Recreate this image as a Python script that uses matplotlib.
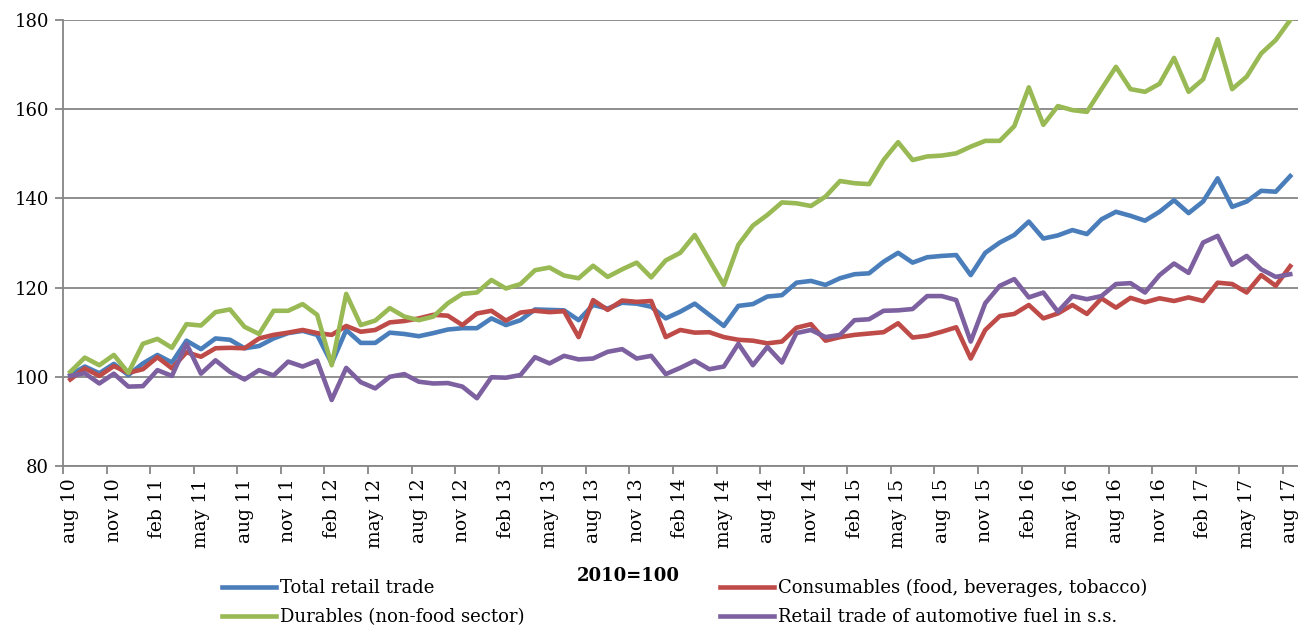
import numpy as np
import matplotlib.pyplot as plt
from matplotlib.ticker import MultipleLocator

# month index 0 = aug 10 ... 84 = aug 17
tick_labels = ['aug 10', 'nov 10', 'feb 11', 'may 11', 'aug 11', 'nov 11', 'feb 12', 'may 12',
               'aug 12', 'nov 12', 'feb 13', 'may 13', 'aug 13', 'nov 13', 'feb 14', 'may 14',
               'aug 14', 'nov 14', 'feb 15', 'may 15', 'aug 15', 'nov 15', 'feb 16', 'may 16',
               'aug 16', 'nov 16', 'feb 17', 'may 17', 'aug 17']

total = [100.4, 102.3, 100.8, 102.9, 100.4, 103.0, 104.9, 103.2, 108.1, 106.2,
         108.6, 108.3, 106.4, 106.9, 108.6, 109.8, 110.3, 109.4, 103.0, 110.5,
         107.6, 107.6, 109.9, 109.6, 109.1, 109.8, 110.6, 110.9, 110.9, 113.1,
         111.6, 112.7, 115.1, 115.0, 114.9, 112.7, 116.1, 115.3, 116.6, 116.4,
         115.7, 113.1, 114.6, 116.4, 113.9, 111.4, 115.9, 116.3, 118.0, 118.3,
         121.1, 121.5, 120.6, 122.1, 123.0, 123.2, 125.8, 127.8, 125.6, 126.8,
         127.1, 127.3, 122.8, 127.8, 130.1, 131.8, 134.8, 131.0, 131.7, 132.9,
         132.0, 135.3, 137.0, 136.1, 135.0, 137.0, 139.6, 136.7, 139.3, 144.5,
         138.1, 139.3, 141.7, 141.5, 145.0]

consumables = [99.4, 101.9, 100.2, 102.4, 100.9, 101.7, 104.4, 101.9, 105.5, 104.5,
               106.4, 106.5, 106.4, 108.6, 109.4, 109.9, 110.5, 109.8, 109.4, 111.4,
               110.1, 110.5, 112.2, 112.5, 113.1, 113.9, 113.7, 111.6, 114.2, 114.8,
               112.6, 114.4, 114.8, 114.5, 114.7, 108.9, 117.2, 115.0, 117.1, 116.8,
               117.0, 108.9, 110.5, 109.9, 110.0, 108.9, 108.3, 108.1, 107.5, 107.9,
               111.0, 111.8, 108.1, 108.9, 109.4, 109.7, 110.0, 112.0, 108.8, 109.2,
               110.1, 111.1, 104.1, 110.5, 113.6, 114.1, 116.1, 113.1, 114.2, 116.1,
               114.1, 117.6, 115.5, 117.7, 116.7, 117.6, 117.0, 117.8, 117.0, 121.1,
               120.8, 118.9, 122.8, 120.4, 124.8]

durables = [101.1, 104.3, 102.6, 104.9, 100.9, 107.4, 108.5, 106.5, 111.8, 111.5,
            114.5, 115.1, 111.2, 109.6, 114.8, 114.8, 116.3, 113.9, 102.6, 118.6,
            111.6, 112.6, 115.4, 113.5, 112.7, 113.5, 116.5, 118.6, 118.9, 121.7,
            119.8, 120.8, 123.9, 124.5, 122.7, 122.1, 124.9, 122.4, 124.1, 125.6,
            122.3, 126.1, 127.8, 131.8, 126.2, 120.6, 129.6, 133.9, 136.3, 139.1,
            138.9, 138.3, 140.4, 143.9, 143.4, 143.2, 148.6, 152.6, 148.6, 149.4,
            149.6, 150.1, 151.6, 152.9, 152.9, 156.2, 164.9, 156.5, 160.7, 159.8,
            159.4, 164.5, 169.5, 164.5, 163.9, 165.7, 171.5, 163.9, 166.7, 175.7,
            164.5, 167.3, 172.5, 175.5, 180.0]

fuel = [100.2, 100.8, 98.5, 100.7, 97.8, 97.9, 101.5, 100.2, 107.4, 100.7,
        103.7, 101.1, 99.4, 101.5, 100.3, 103.4, 102.3, 103.6, 94.8, 102.0,
        98.8, 97.4, 100.0, 100.6, 98.9, 98.5, 98.6, 97.8, 95.2, 99.9,
        99.8, 100.4, 104.4, 103.0, 104.7, 103.9, 104.1, 105.6, 106.2, 104.1,
        104.7, 100.6, 102.0, 103.6, 101.7, 102.3, 107.4, 102.6, 106.7, 103.2,
        109.8, 110.5, 108.9, 109.4, 112.7, 112.9, 114.8, 114.9, 115.2, 118.1,
        118.1, 117.2, 107.9, 116.5, 120.4, 121.9, 117.8, 118.9, 114.6, 118.1,
        117.4, 118.1, 120.8, 121.0, 118.9, 122.8, 125.4, 123.3, 130.1, 131.6,
        125.1, 127.1, 124.1, 122.4, 123.0]

plt.rcParams['font.family'] = 'DejaVu Serif'

x = np.arange(len(total))
grey = '#868686'

fig = plt.figure(figsize=(12.98, 6.28), dpi=100)
ax = fig.add_axes([63/1298, 162/628, 1234.5/1298, 446/628])

lw = 3.3
l1, = ax.plot(x, total, color='#4A7EBB', lw=lw, label='Total retail trade')
l2, = ax.plot(x, consumables, color='#BE4B48', lw=lw, label='Consumables (food, beverages, tobacco)')
l3, = ax.plot(x, durables, color='#98B954', lw=lw, label='Durables (non-food sector)')
l4, = ax.plot(x, fuel, color='#7D60A0', lw=lw, label='Retail trade of automotive fuel in s.s.')

ax.set_xlim(-0.5, len(total) - 0.5)
ax.set_ylim(80, 180)
ax.yaxis.set_major_locator(MultipleLocator(20))
ax.grid(axis='y', color=grey, lw=1.3)
ax.set_axisbelow(True)

# labels centred on the months, tick marks between them
ax.set_xticks(x[::3])
ax.set_xticklabels(tick_labels, rotation=90, fontsize=13.5)
ax.set_xticks(np.arange(-0.5, len(total) - 1, 3), minor=True)
ax.tick_params(axis='x', which='major', length=0, pad=9)
ax.tick_params(axis='x', which='minor', length=6, width=1.3, color=grey)
ax.tick_params(axis='y', length=6, width=1.3, color=grey, labelsize=13, pad=4)

for s in ['top', 'right']:
    ax.spines[s].set_visible(False)
for s in ['left', 'bottom']:
    ax.spines[s].set_color(grey)
    ax.spines[s].set_linewidth(1.3)

fig.text(628/1298, 1 - 576/628, '2010=100', fontsize=13, fontweight='bold', ha='center', va='center')

leg_kw = dict(frameon=False, fontsize=13, handlelength=3.0, handletextpad=0.2,
              labelspacing=0.62, borderpad=0, borderaxespad=0, loc='upper left')
fig.legend(handles=[l1, l3], bbox_to_anchor=(222/1298, 1 - 579/628), **leg_kw)
fig.legend(handles=[l2, l4], bbox_to_anchor=(720/1298, 1 - 579/628), **leg_kw)

plt.savefig('out.png', dpi=100)
